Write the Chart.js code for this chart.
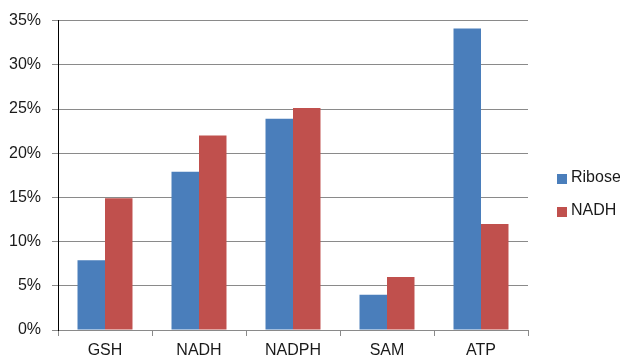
<!DOCTYPE html>
<html>
<head>
<meta charset="utf-8">
<script src="https://cdn.jsdelivr.net/npm/chart.js@4/dist/chart.umd.min.js"></script>
<style>
html,body{margin:0;padding:0;background:#fff;}
#wrap{width:620px;height:357px;position:relative;}
</style>
</head>
<body>
<div id="wrap"><canvas id="c" width="620" height="357"></canvas></div>
<script>
const categories = ["GSH", "NADH", "NADPH", "SAM", "ATP"];
const riboseValues = [7.9, 17.9, 23.9, 4.0, 34.1];
const nadhValues = [14.9, 22.0, 25.1, 6.0, 12.0];
const seriesNames = ["Ribose", "NADH"];
const seriesColors = ["#4A7EBB", "#C0504D"];
const yTicks = [0, 5, 10, 15, 20, 25, 30, 35];

const FONT = '"Liberation Sans", Arial, sans-serif';

const legendPlugin = {
  id: 'customLegend',
  afterDraw(chart) {
    const ctx = chart.ctx;
    ctx.save();
    ctx.font = '16px ' + FONT;
    ctx.textBaseline = 'middle';
    ctx.textAlign = 'left';
    chart.data.datasets.forEach((ds, i) => {
      const y = 179 + i * 33;
      ctx.fillStyle = ds.backgroundColor;
      ctx.fillRect(557, y - 5, 10, 10);
      ctx.fillStyle = '#1a1a1a';
      ctx.fillText(ds.label, 571, y - 1);
    });
    ctx.restore();
  }
};

new Chart(document.getElementById('c'), {
  type: 'bar',
  data: {
    labels: categories,
    datasets: [
      { label: seriesNames[0], data: riboseValues, backgroundColor: seriesColors[0] },
      { label: seriesNames[1], data: nadhValues, backgroundColor: seriesColors[1] }
    ]
  },
  options: {
    responsive: false,
    animation: false,
    devicePixelRatio: 1,
    layout: { padding: { top: 20, right: 92, left: 0, bottom: 0 } },
    datasets: { bar: { categoryPercentage: 0.585, barPercentage: 1.0 } },
    plugins: { legend: { display: false }, tooltip: { enabled: false } },
    scales: {
      x: {
        afterFit(s) { s.height = 27; },
        grid: { offset: true, drawOnChartArea: false, drawTicks: true, tickLength: 6, color: '#8a8a8a' },
        border: { color: '#8a8a8a', width: 1 },
        ticks: { color: '#1a1a1a', padding: 5, font: { family: FONT, size: 16 } }
      },
      y: {
        min: 0, max: 35,
        afterFit(s) { s.width = 58; },
        afterBuildTicks(s) { s.ticks = yTicks.map(v => ({ value: v })); },
        grid: { color: '#8a8a8a', lineWidth: 1, tickLength: 6 },
        border: { color: '#000000', width: 1 },
        ticks: {
          color: '#1a1a1a', padding: 11,
          font: { family: FONT, size: 16 },
          callback: v => v + '%'
        }
      }
    }
  },
  plugins: [legendPlugin]
});
</script>
</body>
</html>
